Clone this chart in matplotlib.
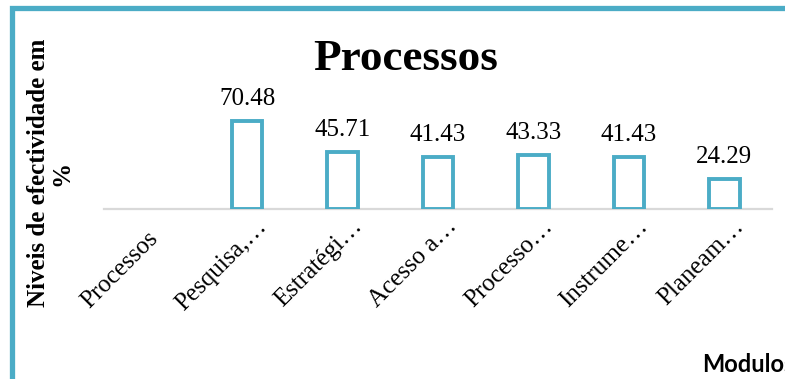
import matplotlib
matplotlib.use('Agg')
import matplotlib.pyplot as plt
from matplotlib.patches import Rectangle

# dados do gráfico
categorias = ['Processos', 'Pesquisa,…', 'Estratégi…', 'Acesso a…',
              'Processo…', 'Instrume…', 'Planeam…']
valores = [None, 70.48, 45.71, 41.43, 43.33, 41.43, 24.29]
titulo = 'Processos'
rotulo_y = 'Niveis de efectividade em\n%'
rotulo_x = 'Modulos'

TEAL = '#4BACC6'
SERIF = ['Liberation Serif', 'DejaVu Serif']

W, H = 785, 379
fig = plt.figure(figsize=(W / 100, H / 100), dpi=100)

# moldura do gráfico (cortada à direita e em baixo)
fig.patches.append(Rectangle((11.5 / W, -0.2), 1.2, 1 - 7.5 / H + 0.2,
                             transform=fig.transFigure, fill=False,
                             edgecolor=TEAL, linewidth=3.8))

ax = fig.add_axes([104 / W, 170 / H, (772 - 104) / W, 125 / H])
x = list(range(len(categorias)))
for i, v in zip(x, valores):
    if v is None:
        continue
    ax.bar(i, v, width=0.32, color='white', edgecolor=TEAL, linewidth=2.8,
           zorder=3)
    ax.annotate(f'{v:.2f}', xy=(i, v), xytext=(0, 8), textcoords='offset points',
                ha='center', va='bottom', fontsize=18, family=SERIF)

# rótulos das categorias, rodados a 45°; os truncados enchem a caixa,
# os completos ficam centrados nela (como no Excel)
for i, lab in zip(x, categorias):
    off = (11.5, -10) if lab.endswith('…') else (2, -18.5)
    ax.annotate(lab, xy=(i, 0), xytext=off, textcoords='offset points',
                ha='right', va='center', rotation=45, rotation_mode='anchor',
                fontsize=18, family=SERIF, annotation_clip=False)

ax.set_xlim(-0.5, len(categorias) - 0.5)
ax.set_ylim(0, 100)
ax.set_xticks([])
ax.set_yticks([])
for s in ['top', 'right', 'left']:
    ax.spines[s].set_visible(False)
ax.spines['bottom'].set_color('#D9D9D9')
ax.spines['bottom'].set_linewidth(1.6)
ax.spines['bottom'].set_zorder(2)
ax.patch.set_alpha(0)

fig.text(406 / W, 1 - 70 / H, titulo, ha='center', va='baseline',
         fontsize=32.5, fontweight='bold', family=SERIF)
fig.text(50 / W, 1 - 173 / H, rotulo_y, ha='center', va='center',
         rotation=90, multialignment='center', fontsize=18,
         fontweight='bold', family=SERIF, linespacing=1.0)
fig.text(702 / W, 1 - 372 / H, rotulo_x, ha='left', va='baseline',
         fontsize=17, fontweight='bold', family=['Lato', 'DejaVu Sans'])

fig.savefig('out.png', dpi=100)
